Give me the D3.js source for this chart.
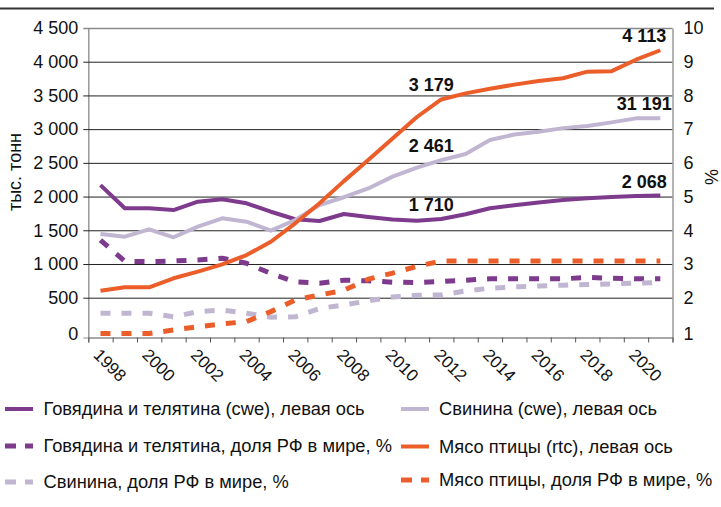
<!doctype html>
<html lang="ru">
<head>
  <meta charset="utf-8">
  <title>Мясо: производство и доля РФ в мире</title>
  <script src="https://d3js.org/d3.v7.min.js"></script>
  <style>
    body { margin: 0; background: #fff; }
    svg { font-family: "Liberation Sans", Arial, sans-serif; }
  </style>
</head>
<body>
<div id="chart"></div>
<script>
  // data
  var years = d3.range(1998, 2022);
  var beef = [2170, 1826, 1826, 1800, 1924, 1959, 1900, 1775, 1663, 1637, 1741, 1697,
              1660, 1642, 1667, 1737, 1826, 1872, 1912, 1949, 1974, 1993, 2008, 2015];
  var pork = [1445, 1405, 1514, 1396, 1553, 1677, 1627, 1494, 1652, 1875, 1990, 2120,
              2296, 2430, 2540, 2631, 2840, 2920, 2960, 3015, 3046, 3100, 3160, 3160];
  var poultry = [604, 654, 654, 788, 886, 995, 1133, 1330, 1603, 1900, 2229, 2542,
                 2861, 3180, 3440, 3530, 3600, 3660, 3715, 3755, 3852, 3860, 4030, 4170];
  var beefShare = [3.71, 3.08, 3.07, 3.09, 3.12, 3.17, 3.02, 2.72, 2.47, 2.43, 2.52, 2.50,
                   2.46, 2.45, 2.48, 2.52, 2.56, 2.56, 2.56, 2.56, 2.60, 2.58, 2.56, 2.56];
  var porkShare = [1.61, 1.61, 1.61, 1.52, 1.65, 1.69, 1.61, 1.51, 1.52, 1.73, 1.82, 1.92,
                   2.02, 2.07, 2.08, 2.20, 2.28, 2.32, 2.35, 2.37, 2.39, 2.41, 2.43, 2.45];
  var poultryShare = [1.10, 1.10, 1.10, 1.19, 1.27, 1.34, 1.40, 1.65, 1.94, 2.08, 2.22, 2.55,
                      2.73, 2.93, 3.09, 3.09, 3.09, 3.09, 3.09, 3.09, 3.09, 3.09, 3.09, 3.09];
  var leftTicks = [0, 500, 1000, 1500, 2000, 2500, 3000, 3500, 4000, 4500];
  var rightTicks = [1, 2, 3, 4, 5, 6, 7, 8, 9, 10];
  var yearLabels = [1998, 2000, 2002, 2004, 2006, 2008, 2010, 2012, 2014, 2016, 2018, 2020];

  var colors = { beef: "#7e3a8d", pork: "#c1b6d2", poultry: "#eb5e2a" };

  var width = 721, height = 507;
  var plotLeft = 88.3, plotRight = 672.5, plotTop = 28, plotBottom = 337.5;

  var svg = d3.select("#chart").append("svg")
    .attr("width", width)
    .attr("height", height);

  // scales (bottom band of the picture is a bit taller than the others)
  var x = d3.scaleLinear().domain([1997.5, 2021.5]).range([plotLeft, plotRight]);
  var yL = d3.scaleLinear().domain([0, 500, 4500]).range([plotBottom, 297.7, plotTop]);
  var yR = d3.scaleLinear().domain([1, 2, 10]).range([plotBottom, 297.7, plotTop]);

  var fmt = d3.formatLocale({ decimal: ",", thousands: "\u00a0", grouping: [3], currency: ["", ""] }).format(",d");

  // top rule
  svg.append("line")
    .attr("x1", 0).attr("x2", 714).attr("y1", 8.5).attr("y2", 8.5)
    .attr("stroke", "#333").attr("stroke-width", 1.8);

  // grid + left axis
  var gridG = svg.append("g")
    .attr("transform", "translate(" + plotLeft + ",0)")
    .call(d3.axisLeft(yL).tickValues(leftTicks).tickSizeInner(-(plotRight - plotLeft)).tickSizeOuter(0).tickFormat(fmt).tickPadding(10));
  gridG.select(".domain").attr("stroke", "#8a8a8a").attr("stroke-width", 1.3);
  gridG.selectAll(".tick line")
    .attr("x1", -5)
    .attr("stroke", d => (d === 4500 ? "#8a8a8a" : "#222"))
    .attr("stroke-width", d => (d === 4500 ? 1.3 : 1))
    .filter(d => d === 0).attr("stroke", "#8a8a8a").attr("x2", 0);
  gridG.selectAll(".tick text")
    .attr("x", -10)
    .attr("dy", d => (d === 0 ? "0.1em" : "0.32em"))
    .attr("font-size", 18).attr("fill", "#111");

  // right axis
  var rG = svg.append("g")
    .attr("transform", "translate(" + plotRight + ",0)")
    .call(d3.axisRight(yR).tickValues(rightTicks).tickSize(0).tickPadding(11));
  rG.select(".domain").attr("stroke", "#8a8a8a").attr("stroke-width", 1.3);
  rG.selectAll(".tick text").attr("font-size", 18).attr("fill", "#111")
    .attr("dy", d => (d === 1 ? "0.1em" : "0.32em"));

  // bottom axis: ticks between categories
  var xG = svg.append("g")
    .attr("transform", "translate(0," + plotBottom + ")")
    .call(d3.axisBottom(x).tickValues(d3.range(1997.5, 2022, 1)).tickSize(5).tickFormat(""));
  xG.select(".domain").attr("stroke", "#8a8a8a").attr("stroke-width", 1.3);
  xG.selectAll(".tick line").attr("stroke", "#555");

  svg.append("g").selectAll("text")
    .data(yearLabels)
    .join("text")
      .attr("transform", d => "translate(" + (x(d) - 8) + "," + 356 + ") rotate(45)")
      .attr("font-size", 17).attr("fill", "#111")
      .text(d => d);

  // axis titles
  svg.append("text")
    .attr("transform", "translate(21,172) rotate(-90)")
    .attr("text-anchor", "middle")
    .attr("font-size", 18).attr("fill", "#111")
    .text("тыс. тонн");
  svg.append("text")
    .attr("transform", "translate(718,177) rotate(-90)")
    .attr("text-anchor", "middle")
    .attr("font-size", 18).attr("fill", "#111")
    .text("%");

  // series
  var series = [
    { key: "beefShare", values: beefShare, y: yR, color: colors.beef, dashed: true },
    { key: "porkShare", values: porkShare, y: yR, color: colors.pork, dashed: true },
    { key: "poultryShare", values: poultryShare, y: yR, color: colors.poultry, dashed: true },
    { key: "beef", values: beef, y: yL, color: colors.beef, dashed: false },
    { key: "pork", values: pork, y: yL, color: colors.pork, dashed: false },
    { key: "poultry", values: poultry, y: yL, color: colors.poultry, dashed: false }
  ];

  series.forEach(function(s) {
    var line = d3.line()
      .x((d, i) => x(years[i]))
      .y(d => s.y(d));
    svg.append("path")
      .datum(s.values)
      .attr("fill", "none")
      .attr("stroke", s.color)
      .attr("stroke-width", s.dashed ? 5 : 4)
      .attr("stroke-dasharray", s.dashed ? "10,11" : null)
      .attr("stroke-linejoin", "round")
      .attr("d", line);
  });

  // data labels
  var labels = [
    { values: poultry, year: 2012, text: "3 179" },
    { values: pork, year: 2012, text: "2 461" },
    { values: beef, year: 2012, text: "1 710" },
    { values: poultry, year: 2021, text: "4 113" },
    { values: pork, year: 2021, text: "31 191" },
    { values: beef, year: 2021, text: "2 068" }
  ];
  svg.append("g").selectAll("text")
    .data(labels)
    .join("text")
      .attr("x", d => x(d.year) - (d.year === 2012 ? 10 : 16))
      .attr("y", d => yL(d.values[years.indexOf(d.year)]) - 8)
      .attr("text-anchor", "middle")
      .attr("font-size", 18).attr("font-weight", "bold").attr("fill", "#111")
      .text(d => d.text);

  // legend
  var legend = [
    { label: "Говядина и телятина (cwe), левая ось", color: colors.beef, dashed: false, col: 0, row: 0 },
    { label: "Свинина (cwe), левая ось", color: colors.pork, dashed: false, col: 1, row: 0 },
    { label: "Говядина и телятина, доля РФ в мире, %", color: colors.beef, dashed: true, col: 0, row: 1 },
    { label: "Мясо птицы (rtc), левая ось", color: colors.poultry, dashed: false, col: 1, row: 1 },
    { label: "Свинина, доля РФ в мире, %", color: colors.pork, dashed: true, col: 0, row: 2 },
    { label: "Мясо птицы, доля РФ в мире, %", color: colors.poultry, dashed: true, col: 1, row: 2 }
  ];
  var colX = [5, 401];
  var rowY = [[409, 446, 482], [409, 446.5, 480]];
  var lg = svg.append("g").selectAll("g")
    .data(legend)
    .join("g")
      .attr("transform", d => "translate(" + colX[d.col] + "," + rowY[d.col][d.row] + ")");
  lg.append("line")
    .attr("x1", 0).attr("x2", 28)
    .attr("stroke", d => d.color)
    .attr("stroke-width", d => (d.dashed ? 5 : 4))
    .attr("stroke-dasharray", d => (d.dashed ? "11,9" : null));
  lg.append("text")
    .attr("x", d => (d.col === 0 ? 38.5 : 38))
    .attr("dy", "0.35em")
    .attr("font-size", 18.3).attr("fill", "#111")
    .text(d => d.label);
</script>
</body>
</html>
